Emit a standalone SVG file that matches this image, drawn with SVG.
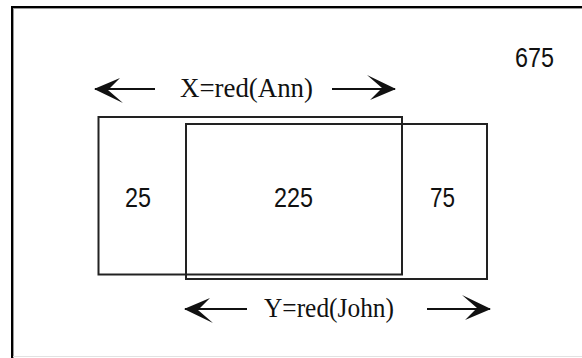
<svg xmlns="http://www.w3.org/2000/svg" width="582" height="358" viewBox="0 0 582 358">
  <style>
    .box { fill: none; stroke: #222; stroke-width: 2; }
    .num { font-family: "Liberation Sans", Arial, sans-serif; font-size: 27px; fill: #111; text-anchor: middle; }
    .lbl { font-family: "Liberation Serif", "Times New Roman", serif; font-size: 27px; fill: #111; }
    .arr { stroke: #111; stroke-width: 2; fill: none; marker-end: url(#ah); }
  </style>
  <defs>
    <marker id="ah" viewBox="-30 -16 32 32" refX="0" refY="0" markerWidth="32" markerHeight="32" markerUnits="userSpaceOnUse" orient="auto">
      <path d="M1,0 L-28,-14 L-13,-1 L-25,11 Z" fill="#111"/>
    </marker>
  </defs>
  <rect x="0" y="0" width="582" height="358" fill="#fff"/>
  <g id="frame">
    <line x1="11" y1="7" x2="582" y2="7" stroke="#000" stroke-width="2"/>
    <line x1="12" y1="6" x2="12" y2="358" stroke="#000" stroke-width="2"/>
    <line x1="13" y1="8.5" x2="582" y2="8.5" stroke="#999" stroke-width="1"/>
    <line x1="13.5" y1="8" x2="13.5" y2="358" stroke="#999" stroke-width="1"/>
    <line x1="13" y1="356.5" x2="582" y2="356.5" stroke="#e2e2e2" stroke-width="1"/>
  </g>
  <g id="setX">
    <rect class="box" x="98.5" y="117" width="303.5" height="157.5"/>
  </g>
  <g id="setY">
    <rect class="box" x="186" y="124" width="301" height="155"/>
  </g>
  <g id="total"><text class="num" x="534.5" y="67" textLength="39" lengthAdjust="spacingAndGlyphs">675</text></g>
  <g id="onlyX"><text class="num" x="138" y="207" textLength="26" lengthAdjust="spacingAndGlyphs">25</text></g>
  <g id="both"><text class="num" x="293.5" y="207" textLength="39" lengthAdjust="spacingAndGlyphs">225</text></g>
  <g id="onlyY"><text class="num" x="442.5" y="207" textLength="25" lengthAdjust="spacingAndGlyphs">75</text></g>
  <g id="labelX"><text class="lbl" x="180" y="97" textLength="133" lengthAdjust="spacingAndGlyphs">X=red(Ann)</text></g>
  <g id="labelY"><text class="lbl" x="264" y="317" textLength="130" lengthAdjust="spacingAndGlyphs">Y=red(John)</text></g>
  <g id="connectors">
    <line class="arr" x1="155" y1="89" x2="95" y2="89"/>
    <line class="arr" x1="332" y1="89" x2="395" y2="89"/>
    <line class="arr" x1="247" y1="309" x2="185" y2="309"/>
    <line class="arr" x1="427" y1="309" x2="490" y2="309"/>
  </g>
</svg>
